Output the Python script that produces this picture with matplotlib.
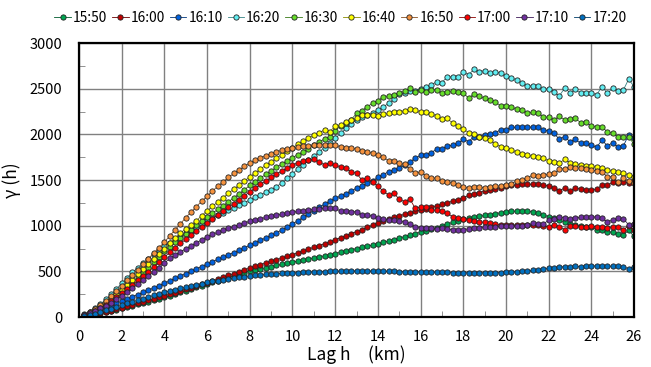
import matplotlib
matplotlib.use("Agg")
import matplotlib.pyplot as plt
from matplotlib.ticker import MultipleLocator

plt.rcParams['font.family'] = ['Noto Sans CJK JP', 'DejaVu Sans']

# lag distance (km), one value every 0.25 km
lag = [0.25 * i for i in range(1, 105)]

times = ['15:50', '16:00', '16:10', '16:20', '16:30',
         '16:40', '16:50', '17:00', '17:10', '17:20']
colors = ['#00A651', '#C00000', '#0062E0', '#62EEF2', '#66DD2A',
          '#FFFF00', '#F5923E', '#FF0000', '#7030A0', '#0070C0']

s1550 = [8, 18, 30, 42, 55, 68, 82, 96,
         110, 124, 138, 152, 167, 182, 198, 215,
         234, 252, 270, 289, 307, 325, 343, 360,
         378, 396, 414, 432, 450, 468, 486, 503,
         515, 527, 540, 552, 565, 577, 589, 600,
         612, 624, 636, 648, 659, 670, 681, 694,
         708, 722, 736, 750, 763, 776, 789, 802,
         816, 832, 848, 864, 880, 896, 912, 928,
         945, 962, 980, 1000, 1018, 1036, 1052, 1068,
         1080, 1092, 1102, 1112, 1122, 1132, 1142, 1152,
         1156, 1160, 1162, 1160, 1150, 1138, 1120, 1098,
         1080, 1060, 1040, 1018, 1010, 1000, 990, 985,
         958, 950, 935, 928, 908, 898, 950, 882]

s1600 = [8, 18, 30, 43, 57, 71, 86, 101,
         117, 133, 149, 165, 181, 198, 215, 232,
         250, 268, 286, 304, 322, 340, 358, 376,
         396, 416, 436, 456, 476, 496, 516, 536,
         555, 573, 591, 609, 627, 645, 663, 681,
         703, 723, 743, 763, 783, 803, 824, 845,
         868, 890, 913, 935, 958, 982, 1006, 1030,
         1052, 1071, 1090, 1107, 1124, 1140, 1156, 1172,
         1188, 1203, 1218, 1233, 1250, 1268, 1285, 1305,
         1332, 1348, 1362, 1378, 1392, 1405, 1418, 1430,
         1440, 1446, 1452, 1455, 1452, 1454, 1446, 1438,
         1416, 1385, 1410, 1380, 1414, 1400, 1392, 1395,
         1400, 1446, 1440, 1476, 1465, 1482, 1465, 1490]

s1610 = [15, 32, 52, 75, 98, 122, 148, 175,
         198, 222, 246, 270, 294, 318, 344, 370,
         396, 422, 448, 474, 500, 526, 553, 580,
         605, 630, 655, 680, 706, 732, 758, 785,
         812, 839, 866, 893, 923, 953, 985, 1018,
         1055, 1092, 1128, 1165, 1200, 1235, 1265, 1298,
         1325, 1352, 1380, 1410, 1438, 1465, 1492, 1528,
         1560, 1590, 1610, 1628, 1660, 1700, 1737, 1770,
         1778, 1800, 1836, 1840, 1873, 1880, 1902, 1946,
         1920, 1975, 1972, 1993, 2000, 2019, 2048, 2052,
         2078, 2076, 2080, 2078, 2080, 2078, 2048, 2040,
         2012, 1946, 1975, 1920, 1946, 1902, 1900, 1884,
         1858, 1939, 1873, 1909, 1858, 1873, 1993, 1965]

s1620 = [28, 60, 98, 140, 192, 250, 308, 369,
         430, 488, 540, 590, 640, 688, 730, 775,
         812, 848, 884, 918, 952, 986, 1020, 1055,
         1085, 1112, 1140, 1168, 1196, 1224, 1252, 1281,
         1310, 1336, 1364, 1394, 1428, 1470, 1519, 1570,
         1620, 1668, 1715, 1762, 1810, 1855, 1905, 1955,
         2010, 2066, 2110, 2158, 2185, 2210, 2231, 2265,
         2300, 2340, 2390, 2440, 2450, 2470, 2480, 2500,
         2515, 2540, 2577, 2566, 2632, 2628, 2632, 2687,
         2651, 2713, 2687, 2698, 2676, 2680, 2676, 2640,
         2620, 2596, 2566, 2530, 2532, 2530, 2494, 2500,
         2468, 2421, 2505, 2457, 2494, 2450, 2455, 2457,
         2432, 2523, 2450, 2505, 2479, 2485, 2604, 2523]

s1630 = [20, 46, 76, 110, 148, 190, 235, 280,
         320, 375, 430, 486, 542, 600, 660, 720,
         770, 818, 866, 912, 958, 1002, 1046, 1090,
         1135, 1178, 1220, 1262, 1305, 1350, 1395, 1440,
         1482, 1522, 1562, 1602, 1640, 1675, 1710, 1745,
         1778, 1812, 1845, 1880, 1915, 1950, 1975, 2040,
         2090, 2121, 2160, 2230, 2260, 2303, 2340, 2370,
         2413, 2420, 2432, 2457, 2470, 2505, 2468, 2490,
         2468, 2490, 2486, 2450, 2462, 2479, 2465, 2457,
         2395, 2443, 2420, 2395, 2380, 2358, 2311, 2315,
         2303, 2274, 2262, 2238, 2242, 2238, 2194, 2185,
         2158, 2201, 2158, 2165, 2176, 2128, 2135, 2092,
         2085, 2078, 2030, 2012, 1968, 1968, 1968, 1895]

s1640 = [22, 50, 84, 122, 164, 208, 254, 300,
         355, 410, 467, 523, 580, 636, 692, 750,
         810, 866, 920, 965, 1010, 1055, 1110, 1165,
         1212, 1260, 1308, 1355, 1400, 1445, 1490, 1535,
         1578, 1620, 1662, 1702, 1740, 1778, 1815, 1855,
         1890, 1922, 1955, 1990, 2018, 2048, 2030, 2092,
         2103, 2130, 2160, 2176, 2212, 2215, 2212, 2201,
         2218, 2231, 2240, 2249, 2258, 2274, 2262, 2249,
         2240, 2223, 2205, 2165, 2176, 2121, 2092, 2060,
         2019, 2004, 1968, 1960, 1939, 1895, 1866, 1850,
         1829, 1808, 1790, 1774, 1760, 1750, 1738, 1710,
         1700, 1683, 1727, 1690, 1675, 1668, 1654, 1650,
         1640, 1628, 1610, 1600, 1591, 1575, 1555, 1537]

s1650 = [24, 54, 90, 130, 175, 225, 280, 340,
         400, 460, 520, 580, 640, 700, 760, 820,
         888, 955, 1022, 1088, 1150, 1210, 1268, 1325,
         1380, 1432, 1482, 1528, 1572, 1612, 1650, 1685,
         1715, 1742, 1766, 1788, 1808, 1825, 1840, 1853,
         1862, 1868, 1874, 1880, 1884, 1888, 1884, 1878,
         1866, 1855, 1847, 1840, 1822, 1810, 1793, 1775,
         1756, 1708, 1712, 1690, 1670, 1618, 1574, 1591,
         1544, 1526, 1520, 1490, 1482, 1471, 1446, 1427,
         1410, 1427, 1420, 1418, 1427, 1430, 1438, 1448,
         1460, 1490, 1498, 1519, 1555, 1545, 1556, 1565,
         1574, 1618, 1625, 1640, 1636, 1628, 1625, 1610,
         1600, 1591, 1537, 1537, 1482, 1519, 1490, 1464]

s1700 = [18, 42, 70, 102, 137, 175, 215, 258,
         305, 352, 400, 448, 497, 548, 600, 655,
         710, 758, 805, 850, 895, 940, 985, 1030,
         1075, 1118, 1160, 1200, 1242, 1285, 1328, 1372,
         1412, 1452, 1490, 1528, 1565, 1598, 1628, 1662,
         1690, 1708, 1720, 1727, 1700, 1665, 1690, 1660,
         1646, 1628, 1591, 1574, 1500, 1519, 1482, 1430,
         1380, 1336, 1355, 1290, 1263, 1292, 1190, 1205,
         1209, 1172, 1172, 1165, 1136, 1099, 1081, 1068,
         1060, 1050, 1042, 1036, 1028, 1018, 1012, 1008,
         1008, 1006, 1008, 1006, 1008, 1004, 995, 990,
         1010, 990, 953, 1000, 995, 990, 990, 992,
         990, 988, 970, 990, 985, 955, 1000, 953]

s1710 = [18, 42, 68, 96, 126, 158, 192, 228,
         272, 316, 360, 404, 448, 492, 540, 590,
         642, 678, 713, 747, 780, 812, 845, 880,
         905, 928, 950, 970, 990, 1010, 1030, 1048,
         1062, 1076, 1090, 1103, 1115, 1126, 1137, 1147,
         1157, 1166, 1172, 1180, 1186, 1190, 1192, 1190,
         1160, 1165, 1155, 1152, 1120, 1115, 1105, 1088,
         1078, 1065, 1058, 1050, 1040, 1020, 990, 980,
         978, 972, 966, 971, 965, 955, 953, 958,
         965, 972, 976, 985, 990, 988, 995, 1000,
         996, 1000, 998, 1002, 1028, 1020, 1015, 1062,
         1072, 1099, 1085, 1075, 1088, 1092, 1090, 1092,
         1099, 1080, 1044, 1060, 1081, 1078, 1008, 1019]

s1720 = [10, 22, 38, 55, 72, 90, 110, 130,
         148, 166, 183, 200, 218, 236, 254, 272,
         286, 300, 314, 327, 340, 353, 366, 378,
         389, 399, 409, 419, 428, 436, 443, 450,
         456, 461, 466, 470, 474, 477, 480, 483,
         486, 489, 492, 494, 496, 498, 500, 502,
         503, 504, 505, 505, 505, 505, 504, 503,
         502, 501, 500, 498, 497, 496, 495, 494,
         492, 491, 490, 489, 488, 487, 486, 485,
         485, 484, 484, 485, 485, 486, 487, 489,
         492, 496, 500, 505, 512, 520, 526, 532,
         538, 545, 552, 548, 556, 552, 560, 556,
         562, 556, 560, 554, 558, 548, 530, 552]

series = [s1550, s1600, s1610, s1620, s1630, s1640, s1650, s1700, s1710, s1720]


def darker(c, f=0.55):
    r, g, b = matplotlib.colors.to_rgb(c)
    return (r * f, g * f, b * f)


fig = plt.figure(figsize=(6.51, 3.67), dpi=100)
ax = fig.add_axes([0.1214, 0.1362, 0.8525, 0.7466])

for t, col, vals in zip(times, colors, series):
    ax.plot(lag, vals, '-o', color=darker(col), lw=0.6,
            markersize=3.8, markerfacecolor=col,
            markeredgecolor='#222222', markeredgewidth=0.6, label=t)

ax.set_xlim(0, 26)
ax.set_ylim(0, 3000)
ax.xaxis.set_major_locator(MultipleLocator(2))
ax.xaxis.set_minor_locator(MultipleLocator(1))
ax.yaxis.set_major_locator(MultipleLocator(500))
ax.yaxis.set_minor_locator(MultipleLocator(250))
ax.grid(True, which='major', color='#808080', lw=1.0)
ax.set_axisbelow(True)
ax.tick_params(which='major', length=0, labelsize=10.5)
ax.tick_params(axis='x', which='major', pad=9)
ax.tick_params(axis='y', which='major', pad=12)
ax.tick_params(which='minor', direction='in', length=4, color='#808080')
for sp in ax.spines.values():
    sp.set_linewidth(1.6)
    sp.set_color('black')

ax.set_xlabel('Lag h\u3000(km)', fontsize=12.5, labelpad=1)
ax.set_ylabel('γ (h)', fontsize=12.5, labelpad=6)

fig.legend(loc='upper center', bbox_to_anchor=(0.523, 1.0), ncol=10,
           frameon=False, fontsize=9.9, handlelength=1.2,
           handletextpad=0.15, columnspacing=0.35, borderpad=0.3)

fig.savefig('out.png', dpi=100)
